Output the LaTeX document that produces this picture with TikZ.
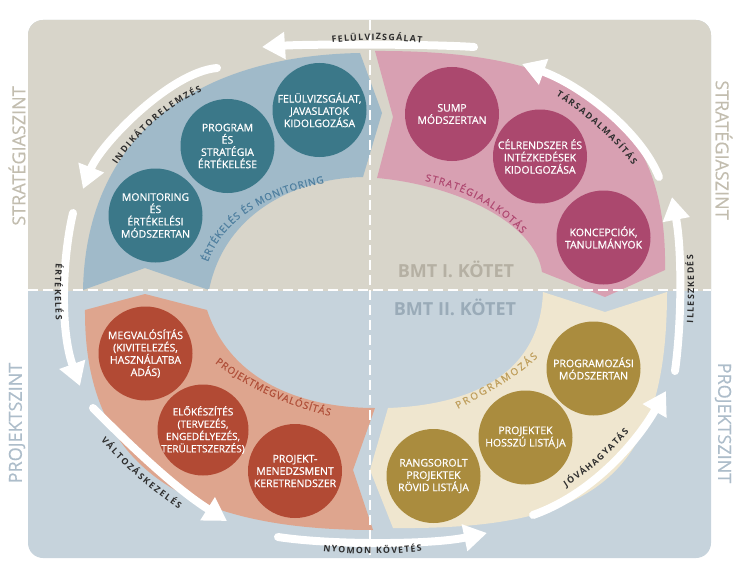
\documentclass[tikz,border=0pt]{standalone}
\usepackage{fontspec}
\setmainfont{Open Sans}
\newfontfamily\osbold[FakeBold=0.8]{Open Sans}
\newfontfamily\oslight[FakeBold=0.4]{Open Sans}
\usetikzlibrary{arrows.meta,decorations.text}
\definecolor{bgtop}{HTML}{D8D5CA}
\definecolor{bgbot}{HTML}{C6D3DC}
\definecolor{bandB}{HTML}{A0BAC9}
\definecolor{bandP}{HTML}{D8A0B2}
\definecolor{bandS}{HTML}{DEA58E}
\definecolor{bandG}{HTML}{EFE6CF}
\definecolor{circB}{HTML}{3B7889}
\definecolor{circP}{HTML}{AB486E}
\definecolor{circR}{HTML}{B24A34}
\definecolor{circG}{HTML}{AA8C3E}
\definecolor{labB}{HTML}{5080A0}
\definecolor{labP}{HTML}{B04A72}
\definecolor{labR}{HTML}{B0503A}
\definecolor{labG}{HTML}{BF9F5C}
\definecolor{sideT}{HTML}{C2BDAF}
\definecolor{sideB}{HTML}{ADBDCA}
\definecolor{bmtT}{HTML}{B5B0A3}
\definecolor{bmtB}{HTML}{9AABB8}
\definecolor{darklab}{HTML}{2E2E2E}
\newcommand\circfont{\osbold\fontsize{10.5}{12.3}\selectfont}
\newcommand\circfontsm{\osbold\fontsize{10}{12.3}\selectfont}
\newcommand\arrowlab{\fontsize{8.8}{10}\selectfont\bfseries\color{darklab}}
\newcommand\bandlab{\osbold\fontsize{10}{11}\selectfont}
\newcommand\sidefont{\oslight\fontsize{18}{20}\selectfont}
\newcommand\bmtfont{\fontsize{18}{20}\selectfont\bfseries}
\begin{document}
\begin{tikzpicture}[x=1pt,y=-1pt,
  circ/.style={circle, minimum size=94pt, inner sep=0pt},
  ctext/.style={text=white, align=center, font=\circfont, inner sep=0pt},
  outarrow/.style={draw=white, line width=8pt, line cap=round, -{Triangle[length=23pt,width=26pt]}},
  divider/.style={white, line width=2.5pt, dash pattern=on 10pt off 5pt},
  sidelab/.style={font=\sidefont, inner sep=0pt},
  bmt/.style={font=\bmtfont, anchor=base, inner sep=0pt}]
\useasboundingbox (0,0) rectangle (742,578);
% background
\fill[bgbot, rounded corners=15pt] (28,20) rectangle (711,558);
\begin{scope}
  \clip (0,0) rectangle (742,290);
  \fill[bgtop, rounded corners=15pt] (28,20) rectangle (711,558);
\end{scope}
% bands
\fill[bandB] (83,290) .. controls (86,140) and (190,56) .. (360,53) -- (382,113) -- (363,177)
  .. controls (300,178) and (225,210) .. (209,290) -- (145,268) -- cycle;
\fill[bandP] (375,51) .. controls (560,50) and (668,100) .. (665,270) -- (605,297) -- (542,272)
  .. controls (535,222) and (455,185) .. (377,178) -- (393,117) -- cycle;
\fill[bandG] (667,292) .. controls (667,480) and (590,530) .. (393,528) -- (370,470) -- (388,408)
  .. controls (470,405) and (540,375) .. (543,292) -- (605,312) -- cycle;
\fill[bandS] (373,530) .. controls (175,530) and (84,460) .. (85,310) -- (145,294) -- (207,310)
  .. controls (230,380) and (300,408) .. (375,408) -- (353,470) -- cycle;
% dividers
\draw[divider] (370,20) -- (370,558);
\draw[divider] (28,290) -- (711,290);
% circles
\node[circ, fill=circB] (b1) at (319.5,110) {};
\node[circ, fill=circB] (b2) at (227.5,146) {};
\node[circ, fill=circB] (b3) at (155.5,215.5) {};
\node[circ, fill=circP] (p1) at (452,114) {};
\node[circ, fill=circP] (p2) at (540,156.5) {};
\node[circ, fill=circP] (p3) at (603.5,237.5) {};
\node[circ, fill=circR] (r1) at (145.5,353.5) {};
\node[circ, fill=circR, minimum size=91pt] (r2) at (203,430) {};
\node[circ, fill=circR] (r3) at (295,471) {};
\node[circ, fill=circG] (g1) at (593.5,368.5) {};
\node[circ, fill=circG] (g2) at (525.5,437.5) {};
\node[circ, fill=circG] (g3) at (433.5,476) {};
\node[ctext] (b1t) at (b1) {FELÜLVIZSGÁLAT,\\JAVASLATOK\\KIDOLGOZÁSA};
\node[ctext] (b2t) at (b2) {PROGRAM\\ÉS\\STRATÉGIA\\ÉRTÉKELÉSE};
\node[ctext] (b3t) at (b3) {MONITORING\\ÉS\\ÉRTÉKELÉSI\\MÓDSZERTAN};
\node[ctext] (p1t) at (p1) {SUMP\\MÓDSZERTAN};
\node[ctext] (p2t) at (p2) {CÉLRENDSZER ÉS\\INTÉZKEDÉSEK\\KIDOLGOZÁSA};
\node[ctext] (p3t) at (p3) {KONCEPCIÓK,\\TANULMÁNYOK};
\node[ctext] (r1t) at (r1) {MEGVALÓSÍTÁS\\(KIVITELEZÉS,\\HASZNÁLATBA\\ADÁS)};
\node[ctext, font=\circfontsm] (r2t) at (r2) {ELŐKÉSZÍTÉS\\(TERVEZÉS,\\ENGEDÉLYEZÉS,\\TERÜLETSZERZÉS)};
\node[ctext] (r3t) at (r3) {PROJEKT-\\MENEDZSMENT\\KERETRENDSZER};
\node[ctext] (g1t) at (g1) {PROGRAMOZÁSI\\MÓDSZERTAN};
\node[ctext] (g2t) at (g2) {PROJEKTEK\\HOSSZÚ LISTÁJA};
\node[ctext] (g3t) at (g3) {RANGSOROLT\\PROJEKTEK\\RÖVID LISTÁJA};
% band labels
\path[decorate, decoration={text along path, text align={fit to path},
  text={|\bandlab\color{labB}|ÉRTÉKELÉS ÉS MONITORING}}]
  (208,262) .. controls (222,222) and (262,195) .. (324,183);
\path[decorate, decoration={text along path, text align={fit to path},
  text={|\bandlab\color{labP}|STRATÉGIAALKOTÁS}}]
  (425,181) .. controls (460,188) and (495,205) .. (522,234);
\path[decorate, decoration={text along path, text align={fit to path},
  text={|\bandlab\color{labR}|PROJEKTMEGVALÓSÍTÁS}}]
  (215,363) .. controls (250,390) and (290,406) .. (330,416);
\path[decorate, decoration={text along path, text align={fit to path},
  text={|\bandlab\color{labG}|PROGRAMOZÁS}}]
  (458,409) .. controls (485,394) and (515,379) .. (538,357);
% BMT labels
\node[bmt, text=bmtT] (bmt1) at (456,277) {BMT I. KÖTET};
\node[bmt, text=bmtB] (bmt2) at (455,315) {BMT II. KÖTET};
% side labels
\node[sidelab, text=sideT, rotate=90] (st1) at (17,156) {STRATÉGIASZINT};
\node[sidelab, text=sideT, rotate=-90] (st2) at (724,150) {STRATÉGIASZINT};
\node[sidelab, text=sideB, rotate=90] (pj1) at (17,423) {PROJEKTSZINT};
\node[sidelab, text=sideB, rotate=-90] (pj2) at (723,423) {PROJEKTSZINT};
% outer arrows
\coordinate (a1s) at (474,47);  \coordinate (a1e) at (262,47);
\coordinate (a2s) at (217,68);  \coordinate (a2e) at (83,189);
\coordinate (a3s) at (73,213);  \coordinate (a3e) at (80,386);
\coordinate (a4s) at (93,408);  \coordinate (a4e) at (227,521);
\coordinate (a5s) at (278,537); \coordinate (a5e) at (487,533);
\coordinate (a6s) at (533,515); \coordinate (a6e) at (666,391);
\coordinate (a7s) at (675,371); \coordinate (a7e) at (672,197);
\coordinate (a8s) at (659,177); \coordinate (a8e) at (522,64);
\draw[outarrow] (a1s) .. controls (430,44) and (310,44) .. (a1e);
\draw[outarrow] (a2s) .. controls (170,72) and (100,145) .. (a2e);
\draw[outarrow] (a3s) .. controls (62,260) and (60,330) .. (a3e);
\draw[outarrow] (a4s) .. controls (120,435) and (170,485) .. (a4e);
\draw[outarrow] (a5s) .. controls (330,545) and (430,545) .. (a5e);
\draw[outarrow] (a6s) .. controls (590,495) and (635,445) .. (a6e);
\draw[outarrow] (a7s) .. controls (682,320) and (682,250) .. (a7e);
\draw[outarrow] (a8s) .. controls (640,130) and (580,85) .. (a8e);
% arrow labels
\path[decorate, decoration={text along path, text align={fit to path},
  text={|\arrowlab|FELÜLVIZSGÁLAT}}]
  (332,43) .. controls (362,39) and (392,39) .. (422,43);
\path[decorate, decoration={text along path, text align={fit to path},
  text={|\arrowlab|INDIKÁTORELEMZÉS}}]
  (117,165) .. controls (137,135) and (167,107) .. (202,91);
\path[decorate, decoration={text along path, text align={fit to path},
  text={|\arrowlab|ÉRTÉKELÉS}}]
  (56,263) .. controls (54.5,282) and (54.5,301) .. (56,320);
\path[decorate, decoration={text along path, text align={fit to path},
  text={|\arrowlab|VÁLTOZÁSKEZELÉS}}]
  (101,440) .. controls (122,465) and (149,489) .. (179,509);
\path[decorate, decoration={text along path, text align={fit to path},
  text={|\arrowlab|NYOMON KÖVETÉS}}]
  (323,551) .. controls (356,555) and (389,555) .. (422,551);
\path[decorate, decoration={text along path, text align={fit to path},
  text={|\arrowlab|JÓVÁHAGYATÁS}}]
  (566,487) .. controls (588,473) and (609,455) .. (629,432);
\path[decorate, decoration={text along path, text align={fit to path},
  text={|\arrowlab|ILLESZKEDÉS}}]
  (693,323) .. controls (694.5,300) and (694.5,278) .. (693,255);
\path[decorate, decoration={text along path, text align={fit to path},
  text={|\arrowlab|TÁRSADALMASÍTÁS}}]
  (556,96) .. controls (583,113) and (610,136) .. (633,165);
\end{tikzpicture}
\end{document}
